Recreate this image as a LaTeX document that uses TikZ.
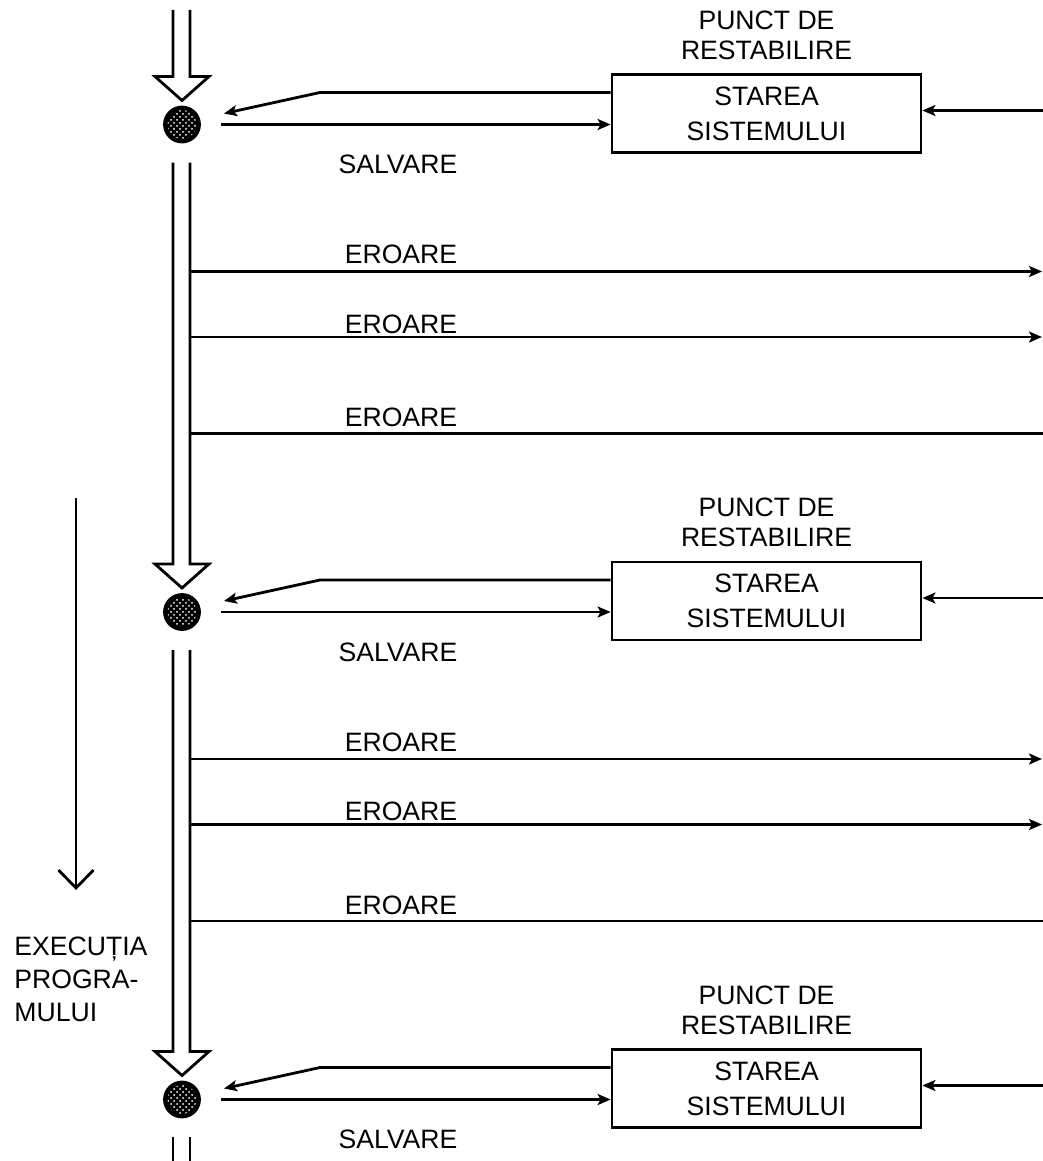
\documentclass[tikz,border=0pt]{standalone}
\usepackage{fontspec}
\setmainfont{Liberation Sans}
\usetikzlibrary{arrows.meta, patterns, positioning}

\begin{document}
\begin{tikzpicture}[>={Stealth[length=6.5pt,width=5.5pt,inset=1.5pt]}, x=0.5pt, y=-0.5pt, line width=1.4pt,
    stare/.style={draw, minimum width=154.5pt, minimum height=39pt, inner sep=0pt,
        align=center, font=\fontsize{13.3}{17.5}\selectfont},
    eticheta/.style={inner sep=0pt, align=center, font=\fontsize{13.3}{15}\selectfont},
    punct/.style={circle, draw, fill=black, minimum size=17.5pt, inner sep=0pt}]
    \useasboundingbox (0,0) rectangle (1043,1161);

    % 1. Sageata executiei programului
    \draw[-{Straight Barb[length=9pt,width=17.5pt]}] (76,498) -- (76,890);
    \node[eticheta, align=left, anchor=north west, font=\fontsize{13.3}{16.5}\selectfont] (exec)
        at (13,936) {EXECUȚIA\\PROGRA-\\MULUI};

    % 2. Punctele de restabilire
    \foreach \i/\y in {1/124.5, 2/612, 3/1099.5} {
        \pgfmathsetmacro{\sus}{max(10,\y-449.5)}
        \draw[line join=miter] (173,\sus) -- (173,\y-48) -- (155,\y-48) -- (182,\y-24)
            -- (209,\y-48) -- (190,\y-48) -- (190,\sus);
        \node[punct] (c\i) at (182,\y) {};
        \fill[pattern=crosshatch dots, pattern color=white] (c\i.center) circle (7.2pt);
        \node[stare] (b\i) at (766.5,\y-11) {STAREA\\SISTEMULUI};
        \node[eticheta, above=6pt of b\i] (p\i) {PUNCT DE\\RESTABILIRE};
        \node[eticheta] (s\i) at (398,\y+40) {SALVARE};
        \coordinate (k\i) at (320,\y-32);
        \coordinate (t\i) at (224,\y-11);
        \coordinate (r\i) at (1043,\y-14);
        \draw[->] (b\i.west |- k\i) -- (k\i) -- (t\i);
        \draw[->] ([xshift=10pt]c\i.east) -- (b\i.west |- c\i);
        \draw[->] (r\i) -- (b\i.east |- r\i);
    }
    \draw (173,1137) -- (173,1161);
    \draw (190,1137) -- (190,1161);

    % 3. Erorile
    \foreach \i/\y in {1/124.5, 2/612} {
        \draw[->] (190,\y+147) -- (1042,\y+147);
        \draw[->] (190,\y+212.5) -- (1042,\y+212.5);
        \draw (190,\y+309) -- (1043,\y+309);
        \node[eticheta] (e\i a) at (401,\y+130) {EROARE};
        \node[eticheta] (e\i b) at (401,\y+199.5) {EROARE};
        \node[eticheta] (e\i c) at (401,\y+293) {EROARE};
    }
\end{tikzpicture}
\end{document}
